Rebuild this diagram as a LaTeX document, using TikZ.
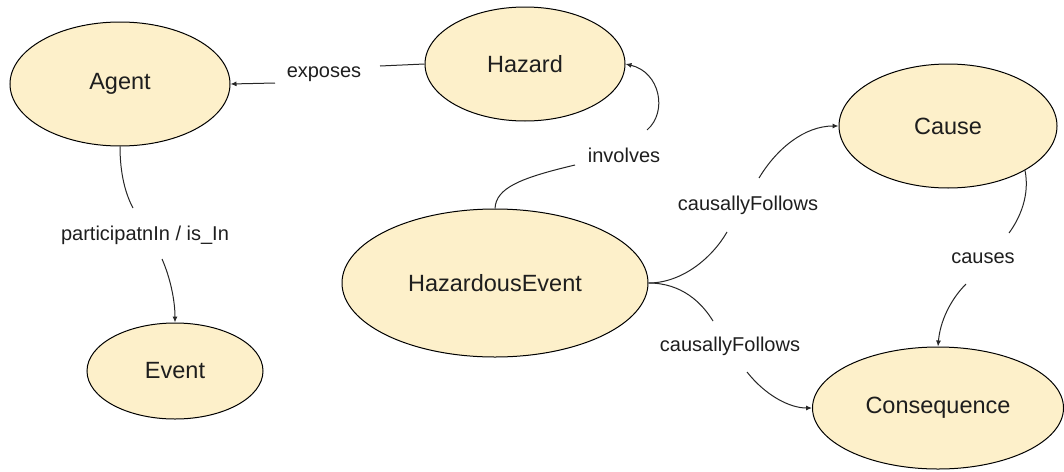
\documentclass[tikz,border=0pt]{standalone}
\usepackage{fontspec}
\setmainfont{Liberation Sans}
\usetikzlibrary{shapes.geometric,arrows.meta}
\definecolor{nodefill}{HTML}{FDF0CA}
\definecolor{txt}{HTML}{1E1E1E}
\begin{document}
\begin{tikzpicture}[x=1pt,y=-1pt,
  concept/.style={ellipse,draw=black,line width=1pt,fill=nodefill,inner sep=0pt,
    text=txt,font=\fontsize{23.5}{28}\selectfont},
  rel/.style={text=txt,font=\fontsize{20}{24}\selectfont,inner sep=0pt},
  conn/.style={draw=black!85,line width=1pt},
  tip/.style={-{Latex[length=6pt,width=5pt]}}]
\useasboundingbox (0,0) rectangle (1064,471);
% concepts
\node[concept,minimum width=220pt,minimum height=124pt] (agent) at (120,84) {Agent};
\node[concept,minimum width=200pt,minimum height=114pt] (hazard) at (525,64) {Hazard};
\node[concept,minimum width=218pt,minimum height=124pt] (cause) at (948,126) {Cause};
\node[concept,minimum width=306pt,minimum height=148pt] (he) at (495,283) {HazardousEvent};
\node[concept,minimum width=176pt,minimum height=96pt] (event) at (175,371) {Event};
\node[concept,minimum width=251pt,minimum height=122pt] (cons) at (938,408) {Consequence};
% labels
\node[rel] (lexp) at (324,74) {exposes};
\node[rel] (linv) at (624,155) {involves};
\node[rel] (lcf1) at (748,205) {causallyFollows};
\node[rel] (lcf2) at (730,346) {causallyFollows};
\node[rel] (lcau) at (983,258) {causes};
\node[rel] (lpar) at (145,235) {participatnIn / is\_In};
% break points
\coordinate (e1a) at (380,66);
\coordinate (e1b) at (275,83);
\coordinate (i1) at (575,165);
\coordinate (i2) at (647,130);
\coordinate (c1a) at (727,232);
\coordinate (c1b) at (759,178);
\coordinate (c2a) at (713,321);
\coordinate (c2b) at (747,372);
\coordinate (ca1) at (1009,233);
\coordinate (ca2) at (966,284);
\coordinate (p1) at (133,208);
\coordinate (p2) at (162,259);
% connectors
\draw[conn] (hazard.west) -- (e1a);
\draw[conn,tip] (e1b) -- (agent.east);
\draw[conn] (he.north) .. controls (496,188) and (520,178) .. (i1);
\draw[conn,tip] (i2) .. controls (668,112) and (660,72) .. (hazard.east);
\draw[conn] (he.east) .. controls (682,283) and (712,258) .. (c1a);
\draw[conn,tip] (c1b) .. controls (777,148) and (805,126) .. (cause.west);
\draw[conn] (he.east) .. controls (682,283) and (702,303) .. (c2a);
\draw[conn,tip] (c2b) .. controls (766,396) and (790,408) .. (cons.west);
\draw[conn] (cause.-30) .. controls (1030,195) and (1020,218) .. (ca1);
\draw[conn,tip] (ca2) .. controls (950,300) and (940,322) .. (cons.north);
\draw[conn] (agent.south) .. controls (120,175) and (126,195) .. (p1);
\draw[conn,tip] (p2) .. controls (170,277) and (175,300) .. (event.north);
\end{tikzpicture}
\end{document}
